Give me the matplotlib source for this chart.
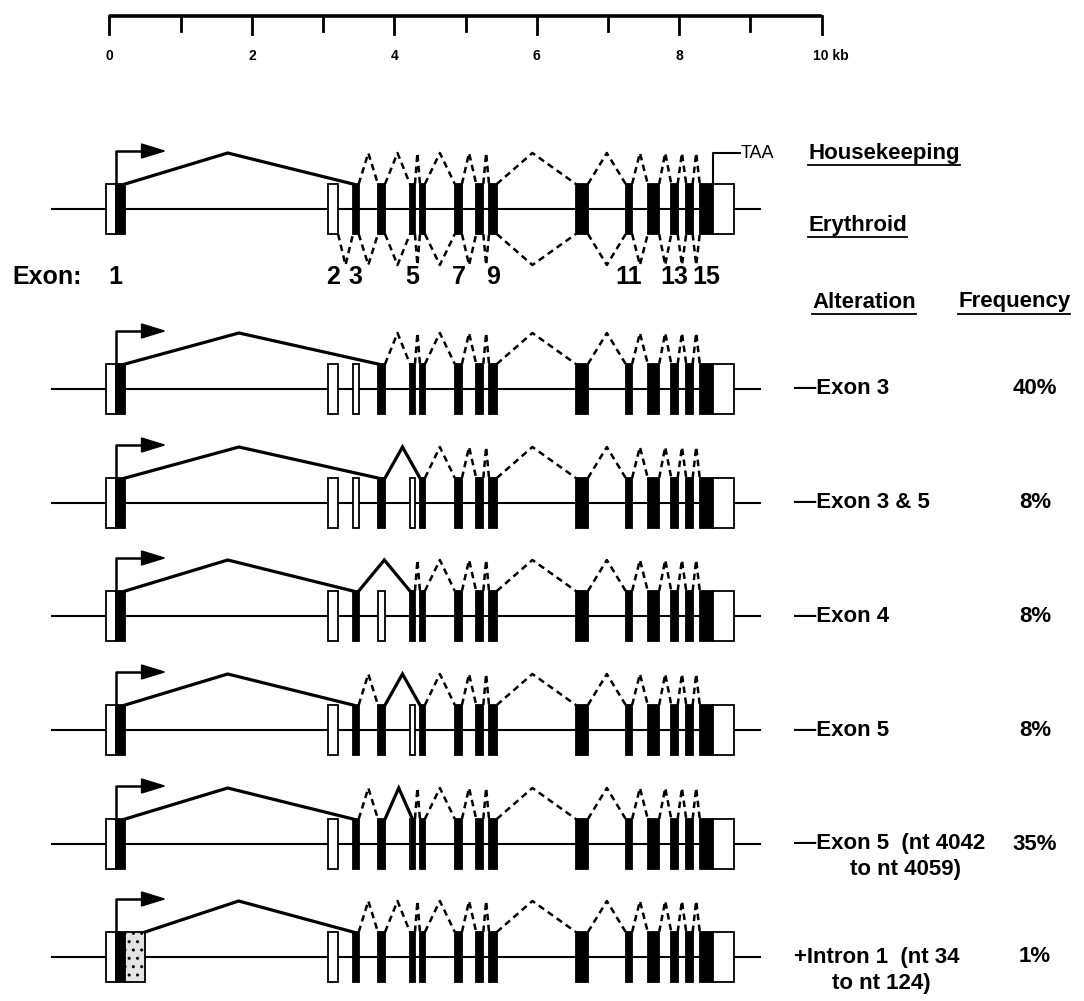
import matplotlib.pyplot as plt
from matplotlib.patches import Rectangle, Polygon

plt.rcParams['font.family'] = ['Liberation Sans', 'DejaVu Sans']

# exon map, kb from the cap site
exon_start = [-0.05, 3.07, 3.42, 3.77, 4.22, 4.36, 4.85, 5.15, 5.33, 6.55, 7.25, 7.56, 7.89, 8.10, 8.29]
exon_end = [0.22, 3.21, 3.50, 3.87, 4.29, 4.43, 4.95, 5.25, 5.44, 6.72, 7.34, 7.72, 7.98, 8.19, 8.77]
exon1_coding = 0.09       # open / filled boundary in exon 1
exon15_coding_end = 8.48  # filled / open boundary in exon 15 (TAA)
exon5_cryptic = 4.255     # cryptic acceptor inside exon 5
intron1_insert_end = 0.50
gene_left, gene_right = -0.81, 9.14
numbered = [1, 2, 3, 5, 7, 9, 11, 13, 15]

scale_ticks = list(range(0, 11))
scale_labels = ['0', '', '2', '', '4', '', '6', '', '8', '', '10 kb']

alterations = ['—Exon 3', '—Exon 3 & 5', '—Exon 4', '—Exon 5',
               '—Exon 5  (nt 4042', '+Intron 1  (nt 34']
alteration_line2 = ['', '', '', '', 'to nt 4059)', 'to nt 124)']
frequencies = ['40%', '8%', '8%', '8%', '35%', '1%']

# first entry = normal gene, then one per alteration
open_exons = [[2], [2, 3], [2, 3, 5], [2, 4], [2, 5], [2], [2]]
solid_junctions = [[(1, 3)], [(1, 4)], [(1, 4), (4, 6)], [(1, 3), (3, 5)],
                   [(1, 3), (4, 6)], [(1, 3), (4, 5)], [(1, 3)]]

W, H = 1084, 1001
x0_px, px_per_kb = 109.5, 71.2
row_y = [209, 389, 503, 616, 730, 844, 957]
half = 25
rise = 31


def kb(px):
    return (px - x0_px) / px_per_kb


fig = plt.figure(figsize=(W / 100, H / 100), dpi=100)
ax = fig.add_axes([0, 0, 1, 1])
ax.set_xlim(kb(0), kb(W))
ax.set_ylim(H, 0)
ax.axis('off')

# scale bar
ax.plot([scale_ticks[0], scale_ticks[-1]], [16, 16], color='black', lw=2.6, solid_capstyle='butt')
for t, lab in zip(scale_ticks, scale_labels):
    ax.plot([t, t], [16, 34 if t % 2 == 0 else 31], color='black', lw=2)
    if lab.endswith('kb'):
        ax.text(t - 0.12, 56, lab, ha='left', va='center', fontsize=10, fontweight='bold')
    elif lab:
        ax.text(t, 56, lab, ha='center', va='center', fontsize=10, fontweight='bold')


def box(x1, x2, y, face, hatch=None):
    ax.add_patch(Rectangle((x1, y - half), x2 - x1, 2 * half, facecolor=face,
                           edgecolor='black', lw=1.3, hatch=hatch, zorder=3))


def splice(a, b, y, solid, below=False):
    frac = 0.45 if b - a > 1 else 0.5
    ym = y + half if below else y - half
    yp = ym + rise if below else ym - rise
    if solid:
        ax.plot([a, a + frac * (b - a), b], [ym, yp, ym], color='black', lw=2.3,
                solid_joinstyle='miter', zorder=4)
    else:
        ax.plot([a, a + frac * (b - a), b], [ym, yp, ym], color='black', lw=1.8,
                dashes=(2.6, 1.8), zorder=4)


for r, y in enumerate(row_y):
    ax.plot([gene_left, gene_right], [y, y], color='black', lw=1.5, zorder=1)
    for i in range(1, 16):
        s, e = exon_start[i - 1], exon_end[i - 1]
        if i == 1:
            box(s, exon1_coding, y, 'white')
            box(exon1_coding, e, y, 'black')
        elif i == 15:
            box(s, exon15_coding_end, y, 'black')
            box(exon15_coding_end, e, y, 'white')
        elif i == 5 and r == 5:
            box(s, exon5_cryptic, y, 'white')
            box(exon5_cryptic, e, y, 'black')
        elif i in open_exons[r]:
            box(s, e, y, 'white')
        else:
            box(s, e, y, 'black')
    if r == 6:
        box(exon_end[0], intron1_insert_end, y, '#e4e4e4', hatch='..')

    # promoter arrow
    ax.plot([exon1_coding, exon1_coding, exon1_coding + 0.37],
            [y - half, y - half - 33, y - half - 33], color='black', lw=1.8, zorder=4)
    ax.add_patch(Polygon([(exon1_coding + 0.36, y - half - 40), (exon1_coding + 0.68, y - half - 33),
                          (exon1_coding + 0.36, y - half - 26)], closed=True,
                         facecolor='black', edgecolor='black', zorder=4))

    used = [i for i in range(1, 16) if i not in open_exons[r]]
    pairs = list(zip(used[:-1], used[1:]))
    for a, b in pairs:
        donor = exon_end[a - 1]
        if r == 6 and a == 1:
            donor = intron1_insert_end
        acceptor = exon_start[b - 1]
        if r == 5 and b == 5:
            acceptor = exon5_cryptic
        splice(donor, acceptor, y, (a, b) in solid_junctions[r])
    for a, b in solid_junctions[r]:
        if (a, b) not in pairs:
            splice(exon_end[a - 1], exon_start[b - 1], y, True)

# erythroid transcript below the normal gene
ery = list(range(2, 16))
for a, b in zip(ery[:-1], ery[1:]):
    splice(exon_end[a - 1], exon_start[b - 1], row_y[0], False, below=True)

# TAA marker
ax.plot([exon15_coding_end, exon15_coding_end, exon15_coding_end + 0.38],
        [row_y[0] - half, row_y[0] - 56, row_y[0] - 56], color='black', lw=1.5)
ax.text(exon15_coding_end + 0.38, row_y[0] - 56, 'TAA', ha='left', va='center', fontsize=13)

# exon numbers
ax.text(kb(12), 277, 'Exon:', ha='left', va='center', fontsize=18, fontweight='bold')
for n in numbered:
    if n == 15:
        cx = (exon_start[14] + exon15_coding_end) / 2
    else:
        cx = (exon_start[n - 1] + exon_end[n - 1]) / 2
    ax.text(cx, 277, str(n), ha='center', va='center', fontsize=18, fontweight='bold')

# right-hand labels
heads = [(808, 153, 'Housekeeping'), (808, 225, 'Erythroid'),
         (812, 302, 'Alteration'), (958, 302, 'Frequency')]
head_texts = [ax.text(kb(x), y, s, ha='left', va='center', fontsize=16, fontweight='bold')
              for x, y, s in heads]

for r in range(len(alterations)):
    y = row_y[r + 1]
    ax.text(kb(794), y, alterations[r], ha='left', va='center', fontsize=16, fontweight='bold')
    ax.text(kb(1035), y, frequencies[r], ha='center', va='center', fontsize=16, fontweight='bold')
    if alteration_line2[r]:
        x2 = 850 if r == 4 else 832
        ax.text(kb(x2), y + 26, alteration_line2[r], ha='left', va='center',
                fontsize=16, fontweight='bold')

fig.canvas.draw()
inv = ax.transData.inverted()
for t in head_texts:
    bb = t.get_window_extent()
    (xa, ya), (xb, yb) = inv.transform([(bb.x0, bb.y0), (bb.x1, bb.y0)])
    ax.plot([xa, xb], [ya + 1, yb + 1], color='black', lw=1.3)

fig.savefig('out.png', dpi=100)
